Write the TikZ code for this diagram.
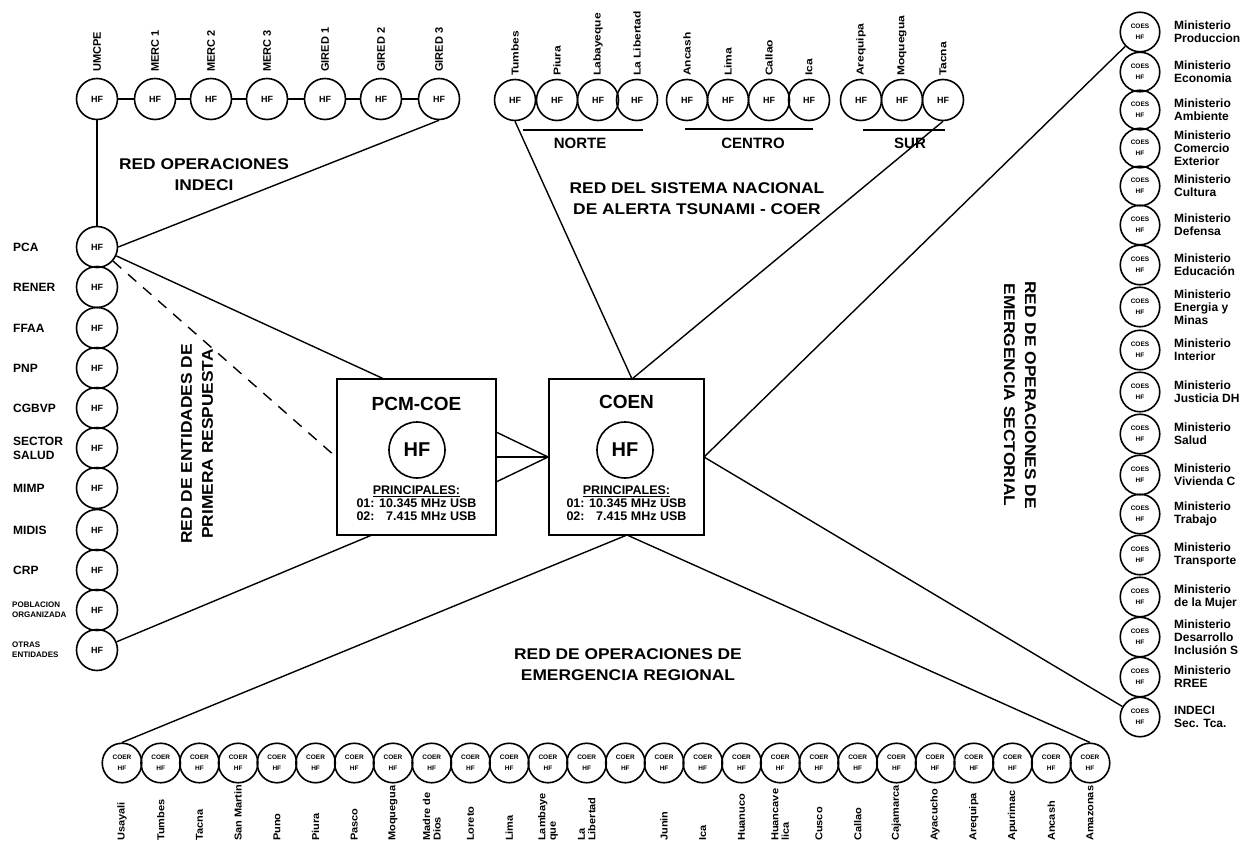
\documentclass[tikz,border=0pt]{standalone}
\usepackage{fontspec}
\setmainfont{Liberation Sans}
\newfontfamily\hdrfont[FakeStretch=1.12]{Liberation Sans}
\newfontfamily\lblfont[FakeStretch=1.2]{Liberation Sans}
\newfontfamily\botfont[FakeStretch=1.1]{Liberation Sans}
\begin{document}
\begin{tikzpicture}[x=1pt,y=-1pt,
  hf/.style={circle,draw,line width=1.6pt,minimum size=41pt,inner sep=0pt,font=\bfseries\fontsize{9}{9}\selectfont},
  coes/.style={circle,draw,line width=1.6pt,minimum size=39.5pt,inner sep=0pt,align=center,font=\bfseries\fontsize{6.5}{11}\selectfont},
  conn/.style={line width=1.4pt},
  toplbl/.style={rotate=90,anchor=west,inner sep=0pt,font=\bfseries\fontsize{11}{11}\selectfont},
  reglbl/.style={rotate=90,anchor=west,inner sep=0pt,align=left,font=\lblfont\bfseries\fontsize{10}{10.5}\selectfont},
  botlbl/.style={rotate=90,anchor=west,inner sep=0pt,align=left,font=\botfont\bfseries\fontsize{10}{10.5}\selectfont},
  leftlbl/.style={anchor=west,inner sep=0pt,align=left,font=\bfseries\fontsize{12}{14}\selectfont},
  smalllbl/.style={anchor=west,inner sep=0pt,align=left,font=\bfseries\fontsize{8}{10}\selectfont},
  minlbl/.style={anchor=west,inner sep=0pt,align=left,font=\bfseries\fontsize{12}{13}\selectfont},
  hdr/.style={align=center,inner sep=0pt,font=\hdrfont\bfseries\fontsize{15.5}{21}\selectfont},
  bigbox/.style={draw,line width=1.8pt,minimum height=156pt,inner sep=0pt},
  bigcirc/.style={circle,draw,line width=1.6pt,minimum size=56pt,inner sep=0pt,font=\bfseries\fontsize{20}{20}\selectfont},
  boxtitle/.style={inner sep=0pt,font=\bfseries\fontsize{19}{19}\selectfont},
  freq/.style={align=center,inner sep=0pt,font=\bfseries\fontsize{12.5}{13}\selectfont},
  grp/.style={inner sep=0pt,font=\bfseries\fontsize{15}{15}\selectfont}
]
\fill[white] (0,0) rectangle (1247,851);
\useasboundingbox (0,0) rectangle (1247,851);

% ---------- top-left row (INDECI) ----------
\foreach \n/\x/\t in {1/97/UMCPE,2/155/MERC 1,3/211/MERC 2,4/267/MERC 3,5/325/GIRED 1,6/381/GIRED 2,7/439/GIRED 3}{
  \node[hf] (t\n) at (\x,99) {HF};
  \node[toplbl] (tl\n) at (\x,72) {\t};
}
\foreach \a/\b in {1/2,2/3,3/4,4/5,5/6,6/7}{\draw[conn] (t\a) -- (t\b);}

% ---------- left column ----------
\foreach \n/\y/\t in {1/247/PCA,2/287/RENER,3/328/FFAA,4/368/PNP,5/408/CGBVP,6/448/{SECTOR\\SALUD},7/488/MIMP,8/530/MIDIS,9/570/CRP}{
  \node[hf] (l\n) at (97,\y) {HF};
  \node[leftlbl] (ll\n) at (13,\y) {\t};
}
\node[hf] (l10) at (97,610) {HF};
\node[smalllbl] (ll10) at (12,610) {POBLACION\\ORGANIZADA};
\node[hf] (l11) at (97,650) {HF};
\node[smalllbl] (ll11) at (12,650) {OTRAS\\ENTIDADES};

% ---------- top-right groups ----------
\foreach \n/\x/\t in {1/515/Tumbes,2/557/Piura,3/598/Labayeque,4/637/La Libertad}{
  \node[hf] (n\n) at (\x,100) {HF};
  \node[reglbl] (nl\n) at (\x,76) {\t};
}
\foreach \n/\x/\t in {1/687/Ancash,2/728/Lima,3/769/Callao,4/809/Ica}{
  \node[hf] (c\n) at (\x,100) {HF};
  \node[reglbl] (cl\n) at (\x,76) {\t};
}
\foreach \n/\x/\t in {1/861/Arequipa,2/902/Moquegua,3/943/Tacna}{
  \node[hf] (s\n) at (\x,100) {HF};
  \node[reglbl] (sl\n) at (\x,76) {\t};
}
\draw[conn] (523,130) -- (643,130);
\draw[conn] (685,129) -- (813,129);
\draw[conn] (863,130) -- (945,130);
\node[grp] (gN) at (580,143) {NORTE};
\node[grp] (gC) at (753,143) {CENTRO};
\node[grp] (gS) at (910,143) {SUR};

% ---------- right column (sectorial) ----------
\foreach \n/\y/\t in {1/32/{Ministerio\\Produccion},2/72/{Ministerio\\Economia},3/110/{Ministerio\\Ambiente},4/148/{Ministerio\\Comercio\\Exterior},5/186/{Ministerio\\Cultura},6/225/{Ministerio\\Defensa},7/265/{Ministerio\\Educación},8/307/{Ministerio\\Energia y\\Minas},9/350/{Ministerio\\Interior},10/392/{Ministerio\\Justicia DH},11/434/{Ministerio\\Salud},12/475/{Ministerio\\Vivienda C},13/514/{Ministerio\\Trabajo},14/555/{Ministerio\\Transporte},15/597/{Ministerio\\de la Mujer},16/637/{Ministerio\\Desarrollo\\Inclusión S},17/677/{Ministerio\\RREE},18/717/{INDECI\\Sec. Tca.}}{
  \node[coes] (r\n) at (1140,\y) {COES\\HF};
  \node[minlbl] (rl\n) at (1174,\y) {\t};
}

% ---------- bottom row (regional) ----------
\foreach \n in {1,...,26}{
  \node[coes] (b\n) at ({122+38.72*(\n-1)},763) {COER\\HF};
}
\foreach \n/\t in {1/Usayali,2/Tumbes,3/Tacna,4/San Martin,5/Puno,6/Piura,7/Pasco,8/Moquegua,9/{Madre de\\Dios},10/Loreto,11/Lima,12/{Lambaye\\que},13/{La\\Libertad},15/Junin,16/Ica,17/Huanuco,18/{Huancave\\lica},19/Cusco,20/Callao,21/Cajamarca,22/Ayacucho,23/Arequipa,24/Apurimac,25/Ancash,26/Amazonas}{
  \node[botlbl] (bl\n) at ({122+38.72*(\n-1)},841) {\t};
}

% ---------- central boxes ----------
\node[bigbox,minimum width=159pt] (pcm) at (416.5,457) {};
\node[boxtitle] (pcmT) at (416.5,404) {PCM-COE};
\node[bigcirc] (pcmC) at (417,450) {HF};
\node[freq] (pcmF) at (416.5,503) {\underline{PRINCIPALES:}\\01: 10.345 MHz USB\\02: \phantom{1}7.415 MHz USB};

\node[bigbox,minimum width=155pt] (coen) at (626.5,457) {};
\node[boxtitle] (coenT) at (626.5,402) {COEN};
\node[bigcirc] (coenC) at (625,450) {HF};
\node[freq] (coenF) at (626.5,503) {\underline{PRINCIPALES:}\\01: 10.345 MHz USB\\02: \phantom{1}7.415 MHz USB};

% ---------- headers ----------
\node[hdr] (h1) at (204,175) {RED OPERACIONES\\INDECI};
\node[hdr] (h2) at (697,199) {RED DEL SISTEMA NACIONAL\\DE ALERTA TSUNAMI - COER};
\node[hdr,rotate=90] (h3) at (197,444) {RED DE ENTIDADES DE\\PRIMERA RESPUESTA};
\node[hdr,rotate=-90] (h4) at (1020,395) {RED DE OPERACIONES DE\\EMERGENCIA SECTORIAL};
\node[hdr] (h5) at (628,665) {RED DE OPERACIONES DE\\EMERGENCIA REGIONAL};

% ---------- connectors ----------
\coordinate (pcmTop) at (384,379);
\coordinate (pcmBot) at (372,535);
\coordinate (pe1) at (496,432);
\coordinate (pe3) at (496,482);
\coordinate (coenTop) at (632,379);
\coordinate (coenRight) at (704,457);
\coordinate (coenBot) at (627,535);

\draw[conn] (t1) -- (l1);
\draw[conn] (l1.east) -- (t7.south);
\draw[conn] (l1) -- (pcmTop);
\draw[conn,dash pattern=on 11pt off 9pt] (l1) -- (pcm.west);
\draw[conn] (l11) -- (pcmBot);
\draw[conn] (pe1) -- (coen.west);
\draw[conn] (pcm.east) -- (coen.west);
\draw[conn] (pe3) -- (coen.west);
\draw[conn] (n1.south) -- (coenTop);
\draw[conn] (s3.south) -- (coenTop);
\draw[conn] (coenRight) -- (r1);
\draw[conn] (coenRight) -- (r18);
\draw[conn] (coenBot) -- (b1.north);
\draw[conn] (coenBot) -- (b26.north);
\end{tikzpicture}
\end{document}
